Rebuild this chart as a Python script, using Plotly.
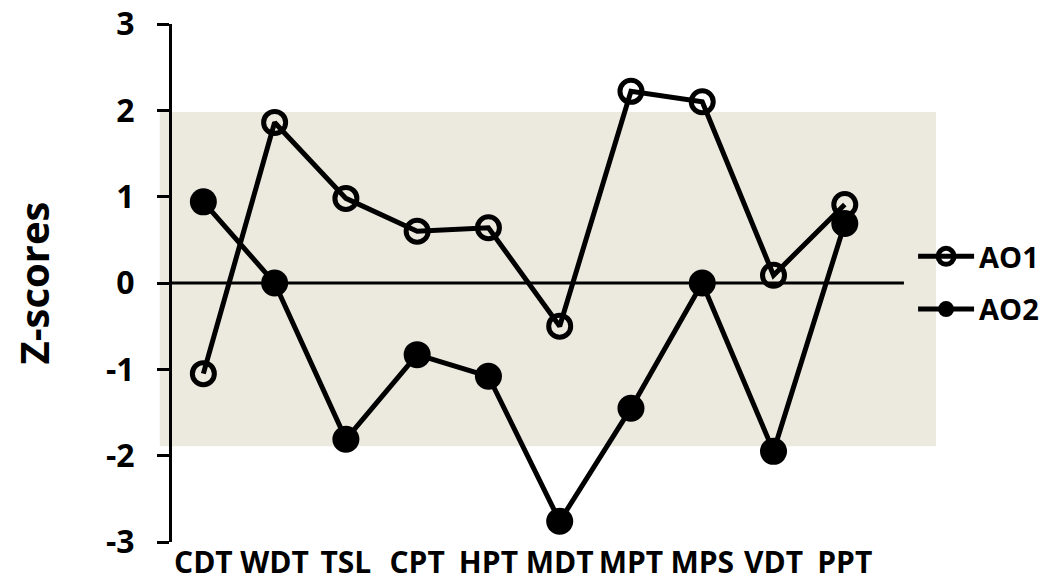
import plotly.graph_objects as go

categories = ["CDT", "WDT", "TSL", "CPT", "HPT", "MDT", "MPT", "MPS", "VDT", "PPT"]
ao1 = [-1.05, 1.86, 0.98, 0.60, 0.64, -0.50, 2.22, 2.10, 0.09, 0.91]
ao2 = [0.94, 0.0, -1.81, -0.83, -1.08, -2.76, -1.45, 0.0, -1.95, 0.69]
y_ticks = [-3, -2, -1, 0, 1, 2, 3]
y_tick_text = ["-3", "-2", "-1", "0", "1", "2", "3"]
band_low, band_high = -1.89, 1.98

FONT = "Open Sans"
xs = list(range(len(categories)))

fig = go.Figure()
fig.add_trace(go.Scatter(
    x=xs, y=ao1, name="AO1", mode="lines+markers", legendgroup="g1",
    line=dict(color="black", width=5),
    marker=dict(symbol="circle-open", size=22, color="black", line=dict(width=5, color="black")),
))
fig.add_trace(go.Scatter(
    x=xs, y=ao2, name="AO2", mode="lines+markers", legendgroup="g2",
    line=dict(color="black", width=5),
    marker=dict(symbol="circle", size=27, color="black"),
))

fig.add_shape(type="rect", xref="paper", yref="y", x0=-0.016, x1=1.0,
              y0=band_low, y1=band_high, fillcolor="#ECE9DF", line=dict(width=0), layer="below")
fig.add_shape(type="line", xref="x", yref="y", x0=-0.44, x1=9.83, y0=0, y1=0,
              line=dict(color="black", width=3), layer="below")

fig.update_layout(
    width=1046, height=583,
    margin=dict(l=172, r=110, t=24, b=41, autoexpand=False),
    paper_bgcolor="white", plot_bgcolor="white",
    font=dict(family=FONT, color="black"),
    showlegend=True,
    legend=dict(x=0.97, y=0.50, xanchor="left", yanchor="middle",
                font=dict(size=29, family=FONT, weight="bold"),
                bgcolor="rgba(0,0,0,0)", tracegroupgap=12, itemwidth=56),
    xaxis=dict(range=[-0.44, 10.28], tickmode="array", tickvals=xs, ticktext=categories,
               showgrid=False, zeroline=False, showline=False, ticks="", automargin=False,
               ticklabelstandoff=0,
               tickfont=dict(size=30, family=FONT, weight="bold")),
    yaxis=dict(range=[-3, 3], tickmode="array", tickvals=y_ticks, ticktext=y_tick_text,
               showgrid=False, zeroline=False, showline=True, linecolor="black", linewidth=3,
               ticks="outside", ticklen=12, tickwidth=3, tickcolor="black", automargin=False,
               ticklabelstandoff=16,
               tickfont=dict(size=32, family=FONT, weight="bold"),
               title=dict(text="Z-scores", font=dict(size=40, family=FONT, weight="bold"), standoff=45)),
)

fig.write_html("out.html", config={"displayModeBar": False},
               post_script="document.body.style.margin='0';")
